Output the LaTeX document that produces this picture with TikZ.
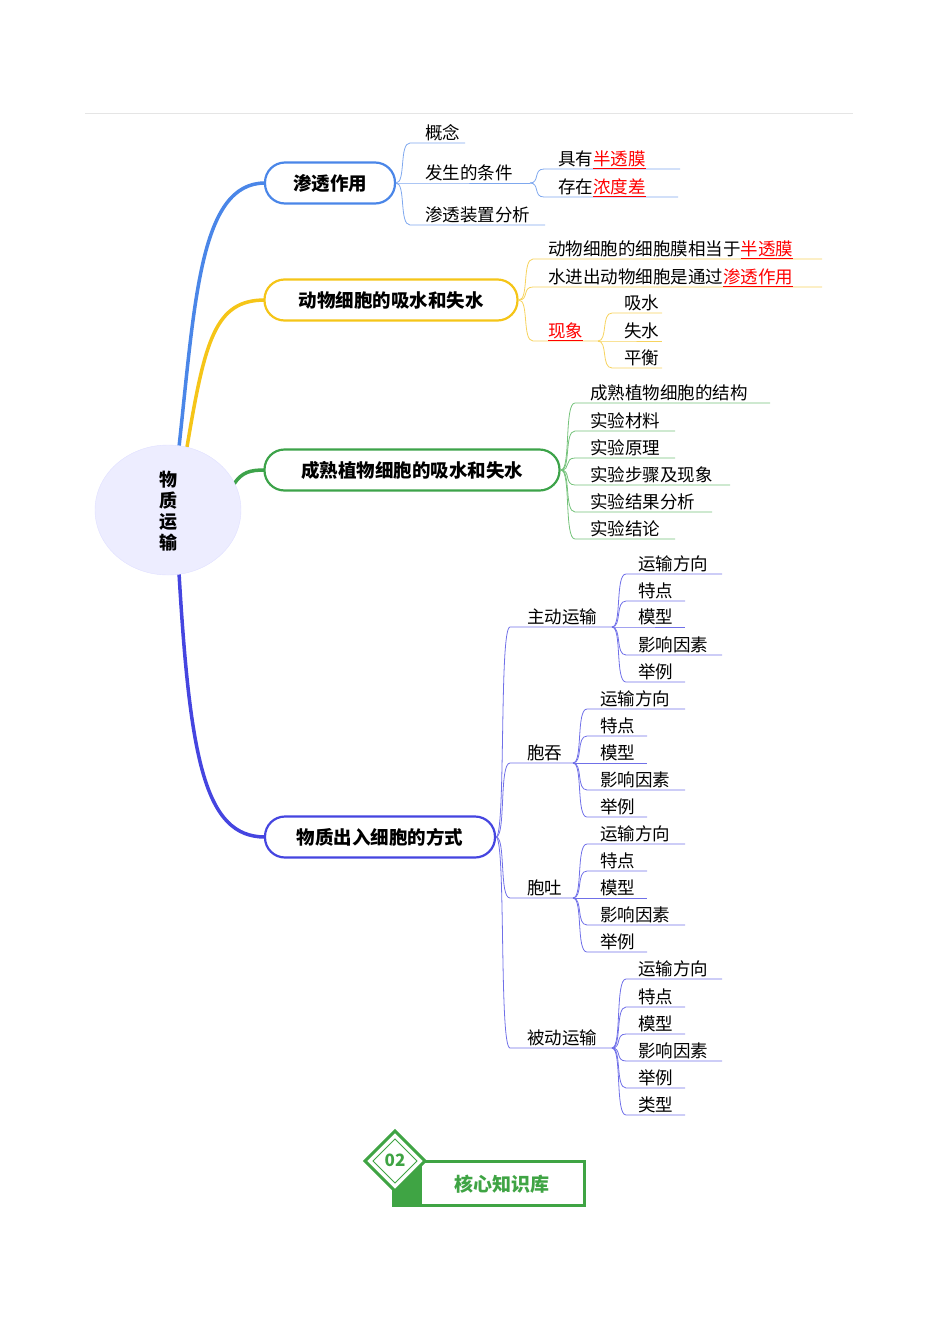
\documentclass[tikz,border=0pt]{standalone}
\usepackage{fontspec}
\setmainfont{Noto Sans CJK SC}
\usetikzlibrary{shapes.geometric}
\definecolor{cblue}{HTML}{4A86E8}
\definecolor{cyel}{HTML}{F5C518}
\definecolor{cgreen}{HTML}{3DA34A}
\definecolor{cvio}{HTML}{4545E0}
\definecolor{lblue}{HTML}{7FA8EE}
\definecolor{lyel}{HTML}{F6D35E}
\definecolor{lgreen}{HTML}{74C27A}
\definecolor{lvio}{HTML}{7070E8}
\definecolor{bgreen}{HTML}{3FA444}
\newcounter{lfc}
\newcommand\lf[7]{% color, fx, fy, ly, textx, endx, text
 \stepcounter{lfc}%
 \draw[#1,line width=0.8pt] (#2,#3) .. controls (#2+10,#3) and (#2+3,#4) .. (#2+14,#4) -- (#6,#4);
 \node[leaf] (l\arabic{lfc}) at (#5,#4-4) {#7};}
\newcommand\rd[1]{{\color{red}\underline{#1}}}
\begin{document}
\begin{tikzpicture}[x=1pt,y=-1pt,
 main/.style={draw,line width=2.2pt,rounded corners=20pt,minimum height=41pt,font=\fontsize{18.5}{18}\selectfont\bfseries,inner xsep=20pt},
 leaf/.style={anchor=base west,inner sep=0pt,font=\fontsize{17.5}{18}\selectfont}]
\useasboundingbox (0,0) rectangle (950,1344);
\draw[gray!20,line width=0.8pt] (85,113) -- (853,113);
% branches
\draw[cblue,line width=3.5pt] (179,447) .. controls (195,300) and (200,183) .. (265,183);
\draw[cyel,line width=3.5pt] (187,447) .. controls (205,340) and (215,300) .. (265,300);
\draw[cgreen,line width=3.5pt] (234,484) .. controls (242,472) and (250,470) .. (265,470);
\draw[cvio,line width=3.5pt] (179,573) .. controls (190,760) and (205,837) .. (265,837);
\node[ellipse,fill=blue!7,draw=blue!12,minimum width=146pt,minimum height=130pt,inner sep=0pt] (c) at (168,510) {};
\node[font=\fontsize{18}{21}\selectfont\bfseries,align=center] (ct) at (168,511) {物\\质\\运\\输};
\node[main,cblue,fill=white,minimum width=130pt,text=black] (a) at (330,183) {渗透作用};
\node[main,cyel,fill=white,minimum width=253pt,text=black] (b) at (391,300) {动物细胞的吸水和失水};
\node[main,cgreen,fill=white,minimum width=295pt,text=black] (p) at (412,470) {成熟植物细胞的吸水和失水};
\node[main,cvio,fill=white,minimum width=230pt,text=black] (t) at (380,837) {物质出入细胞的方式};
% osmosis
\lf{lblue}{396}{183}{143}{425}{465}{概念}
\lf{lblue}{396}{183}{183}{425}{530}{发生的条件}
\lf{lblue}{396}{183}{225}{425}{545}{渗透装置分析}
\lf{lblue}{530}{183}{169}{558}{680}{具有\rd{半透膜}}
\lf{lblue}{530}{183}{197}{558}{678}{存在\rd{浓度差}}
% animal
\lf{lyel}{519}{300}{259}{548}{822}{动物细胞的细胞膜相当于\rd{半透膜}}
\lf{lyel}{519}{300}{287}{548}{822}{水进出动物细胞是通过\rd{渗透作用}}
\lf{lyel}{519}{300}{341}{548}{598}{\rd{现象}}
\lf{lyel}{598}{341}{313}{624}{662}{吸水}
\lf{lyel}{598}{341}{341}{624}{662}{失水}
\lf{lyel}{598}{341}{368}{624}{662}{平衡}
% plant
\lf{lgreen}{561}{470}{403}{590}{770}{成熟植物细胞的结构}
\lf{lgreen}{561}{470}{431}{590}{675}{实验材料}
\lf{lgreen}{561}{470}{458}{590}{675}{实验原理}
\lf{lgreen}{561}{470}{485}{590}{730}{实验步骤及现象}
\lf{lgreen}{561}{470}{512}{590}{712}{实验结果分析}
\lf{lgreen}{561}{470}{539}{590}{675}{实验结论}
% transport
\lf{lvio}{496}{837}{627}{527}{612}{主动运输}
\lf{lvio}{496}{837}{763}{527}{573}{胞吞}
\lf{lvio}{496}{837}{898}{527}{573}{胞吐}
\lf{lvio}{496}{837}{1048}{527}{612}{被动运输}
\lf{lvio}{612}{627}{574}{638}{722}{运输方向}
\lf{lvio}{612}{627}{601}{638}{685}{特点}
\lf{lvio}{612}{627}{627}{638}{685}{模型}
\lf{lvio}{612}{627}{655}{638}{722}{影响因素}
\lf{lvio}{612}{627}{682}{638}{685}{举例}
\lf{lvio}{573}{763}{709}{600}{685}{运输方向}
\lf{lvio}{573}{763}{736}{600}{647}{特点}
\lf{lvio}{573}{763}{763}{600}{647}{模型}
\lf{lvio}{573}{763}{790}{600}{685}{影响因素}
\lf{lvio}{573}{763}{817}{600}{647}{举例}
\lf{lvio}{573}{898}{844}{600}{685}{运输方向}
\lf{lvio}{573}{898}{871}{600}{647}{特点}
\lf{lvio}{573}{898}{898}{600}{647}{模型}
\lf{lvio}{573}{898}{925}{600}{685}{影响因素}
\lf{lvio}{573}{898}{952}{600}{647}{举例}
\lf{lvio}{612}{1048}{979}{638}{722}{运输方向}
\lf{lvio}{612}{1048}{1007}{638}{685}{特点}
\lf{lvio}{612}{1048}{1034}{638}{685}{模型}
\lf{lvio}{612}{1048}{1061}{638}{722}{影响因素}
\lf{lvio}{612}{1048}{1088}{638}{685}{举例}
\lf{lvio}{612}{1048}{1115}{638}{685}{类型}
% badge
\draw[bgreen,line width=3pt,fill=white] (393,1161) rectangle (584,1205);
\fill[bgreen] (392,1165) rectangle (422,1206);
\node[bgreen,font=\fontsize{19}{19}\selectfont\bfseries] (k) at (502,1184) {核心知识库};
\draw[bgreen,line width=3pt,fill=white] (395,1131) -- (425,1161) -- (395,1191) -- (365,1161) -- cycle;
\draw[bgreen,line width=0.8pt] (395,1139) -- (417,1161) -- (395,1183) -- (373,1161) -- cycle;
\node[bgreen,font=\fontsize{17}{17}\selectfont\bfseries] (n) at (395,1160) {02};
\end{tikzpicture}
\end{document}
